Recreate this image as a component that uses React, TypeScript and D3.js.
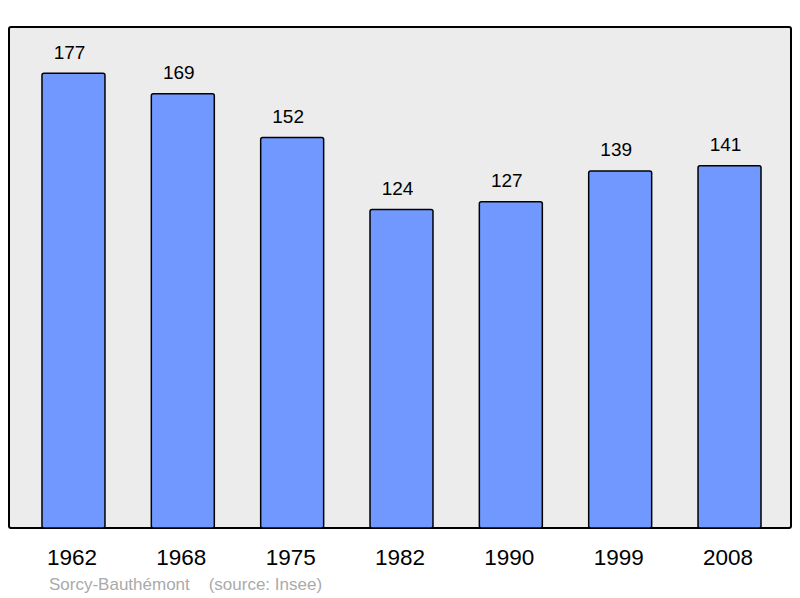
import React from 'react';
import * as d3 from 'd3';

const years = ['1962', '1968', '1975', '1982', '1990', '1999', '2008'];
const population = [177, 169, 152, 124, 127, 139, 141];
const commune = 'Sorcy-Bauthémont';
const source = '(source: Insee)';

const W = 800;
const H = 598;
const frame = { left: 9, top: 27, right: 791, bottom: 528 };

export default function App() {
  const x = d3
    .scaleBand<string>()
    .domain(years)
    .range([frame.left + 1.5, frame.right + 1.5])
    .paddingInner(0.424)
    .paddingOuter(0.288);

  const y = d3.scaleLinear().domain([0, 195]).range([frame.bottom, frame.top]);

  return (
    <svg
      width={W}
      height={H}
      style={{ position: 'absolute', left: 0, top: 0, fontFamily: 'Liberation Sans, Arial, sans-serif' }}
    >
      <rect x={0} y={0} width={W} height={H} fill="#ffffff" />
      <rect
        x={frame.left}
        y={frame.top}
        width={frame.right - frame.left}
        height={frame.bottom - frame.top}
        fill="#ececec"
        stroke="#000"
        strokeWidth={2}
        rx={2}
      />
      {years.map((yr, i) => {
        const bx = x(yr)!;
        const v = population[i];
        return (
          <g key={yr}>
            <rect
              x={bx}
              y={y(v)}
              width={x.bandwidth()}
              height={frame.bottom - y(v)}
              fill="#7098ff"
              stroke="#000"
              strokeWidth={1.5}
              rx={2}
            />
            <text
              x={bx + x.bandwidth() / 2 - 4}
              y={y(v) - 14.5}
              textAnchor="middle"
              fontSize={19}
              fill="#000"
            >
              {v}
            </text>
            <text
              x={bx + x.bandwidth() / 2 - 1.5}
              y={565}
              textAnchor="middle"
              fontSize={22.5}
              fill="#000"
            >
              {yr}
            </text>
          </g>
        );
      })}
      <text x={49} y={590} fontSize={17} fill="#aaaaaa" xmlSpace="preserve">
        {commune + '    ' + source}
      </text>
    </svg>
  );
}
